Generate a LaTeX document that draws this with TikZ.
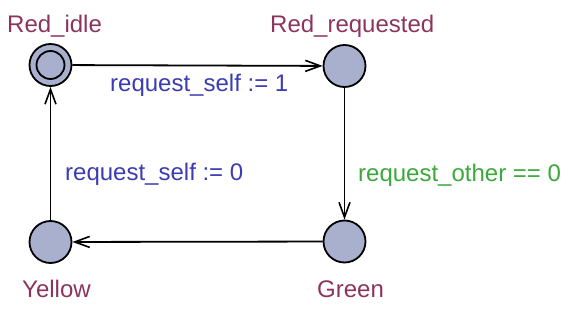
\documentclass[tikz,border=0pt]{standalone}
\usepackage{fontspec}
\setmainfont{Liberation Sans}
\usetikzlibrary{arrows.meta}
\definecolor{locname}{RGB}{140,52,94}
\definecolor{assigncol}{RGB}{60,60,178}
\definecolor{guardcol}{RGB}{60,168,60}
\definecolor{locfill}{RGB}{168,176,206}
\begin{document}
\begin{tikzpicture}[x=1pt,y=-1pt,
  loc/.style={circle,draw=black,line width=1.8pt,fill=locfill,minimum size=42pt,inner sep=0pt},
  lname/.style={text=locname,anchor=base west,inner sep=0pt,font=\fontsize{24}{27}\selectfont},
  asg/.style={text=assigncol,anchor=base west,inner sep=0pt,font=\fontsize{24}{27}\selectfont},
  grd/.style={text=guardcol,anchor=base west,inner sep=0pt,font=\fontsize{24}{27}\selectfont},
  edge/.style={line width=1.8pt,-{Straight Barb[length=15pt,width=11pt,line width=1.6pt]}}]
\useasboundingbox (0,0) rectangle (575,313);
\node[loc] (idle) at (50.5,65) {};
\node[circle,draw=black,line width=1.8pt,minimum size=28pt,inner sep=0pt] (idleinner) at (idle.center) {};
\node[loc] (req) at (344.5,66) {};
\node[loc] (green) at (344.5,241.5) {};
\node[loc] (yellow) at (50.5,242) {};
\node[lname] (lidle) at (7,33) {Red\_idle};
\node[lname] (lreq) at (270,33) {Red\_requested};
\node[lname] (lyellow) at (22,297) {Yellow};
\node[lname] (lgreen) at (317,297) {Green};
\draw[edge] (idle) -- (req);
\draw[edge] (req) -- (green);
\draw[edge] (green) -- (yellow);
\draw[edge] (yellow) -- (idle);
\node[asg] (a1) at (110,92) {request\_self := 1};
\node[asg] (a0) at (65,180) {request\_self := 0};
\node[grd] (g0) at (358,181) {request\_other == 0};
\end{tikzpicture}
\end{document}
